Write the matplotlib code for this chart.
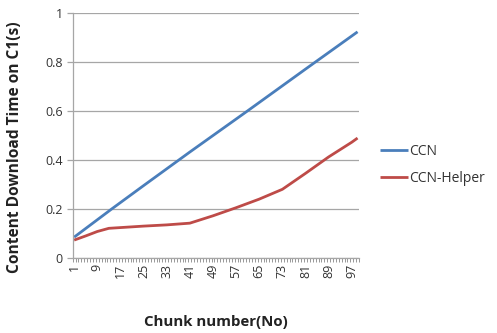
import matplotlib
matplotlib.use("Agg")
import matplotlib.pyplot as plt
from matplotlib.ticker import FixedLocator

# ---- data ----
ccn_chunks = [1, 14, 25, 41, 61, 81, 99]
ccn_time = [0.085, 0.200, 0.295, 0.432, 0.600, 0.770, 0.922]

helper_chunks = [1, 5, 9, 13, 25, 33, 41, 49, 57, 65, 73, 81, 89, 97, 99]
helper_time = [0.073, 0.090, 0.108, 0.121, 0.130, 0.135, 0.142, 0.172,
               0.205, 0.240, 0.280, 0.345, 0.412, 0.472, 0.489]

xtick_labels = [1, 9, 17, 25, 33, 41, 49, 57, 65, 73, 81, 89, 97]
ytick_values = [0, 0.2, 0.4, 0.6, 0.8, 1.0]
ytick_labels = ["0", "0.2", "0.4", "0.6", "0.8", "1"]
n_chunks = 99
series_names = ["CCN", "CCN-Helper"]

plt.rcParams["font.family"] = ["Open Sans", "DejaVu Sans"]

fig = plt.figure(figsize=(4.97, 3.33), dpi=100)
ax = fig.add_axes([72.7 / 497, 1 - 258 / 333, (359 - 72.7) / 497, (258 - 12.7) / 333])

blue = "#4A7EBB"
red = "#BE4B48"
grid_c = "#A6A6A6"

ax.plot(ccn_chunks, ccn_time, color=blue, lw=2.0, label=series_names[0], solid_capstyle="butt")
ax.plot(helper_chunks, helper_time, color=red, lw=2.0, label=series_names[1], solid_capstyle="butt")

ax.set_xlim(0.5, n_chunks + 0.5)
ax.set_ylim(0, 1)
ax.yaxis.set_major_locator(FixedLocator(ytick_values))
ax.set_yticklabels(ytick_labels)
ax.grid(axis="y", color=grid_c, lw=0.9)
ax.set_axisbelow(True)

ax.xaxis.set_major_locator(FixedLocator(xtick_labels))
ax.set_xticklabels([str(v) for v in xtick_labels], rotation=90)
ax.xaxis.set_minor_locator(FixedLocator([i + 0.5 for i in range(0, n_chunks + 1)]))
ax.tick_params(axis="x", which="major", length=0, pad=4, labelsize=9, labelcolor="#333333")
ax.tick_params(axis="x", which="minor", length=3, width=0.6, color="#888888")
ax.tick_params(axis="y", which="major", length=4, width=0.9, color=grid_c, pad=3,
               labelsize=9, labelcolor="#333333")

for s in ["top", "right"]:
    ax.spines[s].set_visible(False)
ax.spines["left"].set_color(grid_c)
ax.spines["bottom"].set_color(grid_c)
ax.spines["left"].set_linewidth(0.9)
ax.spines["bottom"].set_linewidth(0.9)

fig.text(15 / 497, 1 - 147 / 333, "Content Download Time on C1(s)", rotation=90,
         ha="center", va="center", fontsize=11.2, fontweight="bold", color="#222222")
fig.text(216 / 497, 1 - 322 / 333, "Chunk number(No)", ha="center", va="center",
         fontsize=10.8, fontweight="bold", color="#222222")

fig.legend(loc="center left", bbox_to_anchor=(380 / 497, 1 - 165 / 333), frameon=False,
           fontsize=10, handlelength=2.0, handletextpad=0.1, labelspacing=0.9,
           borderpad=0, borderaxespad=0, labelcolor="#333333")

fig.savefig("out.png", dpi=100)
